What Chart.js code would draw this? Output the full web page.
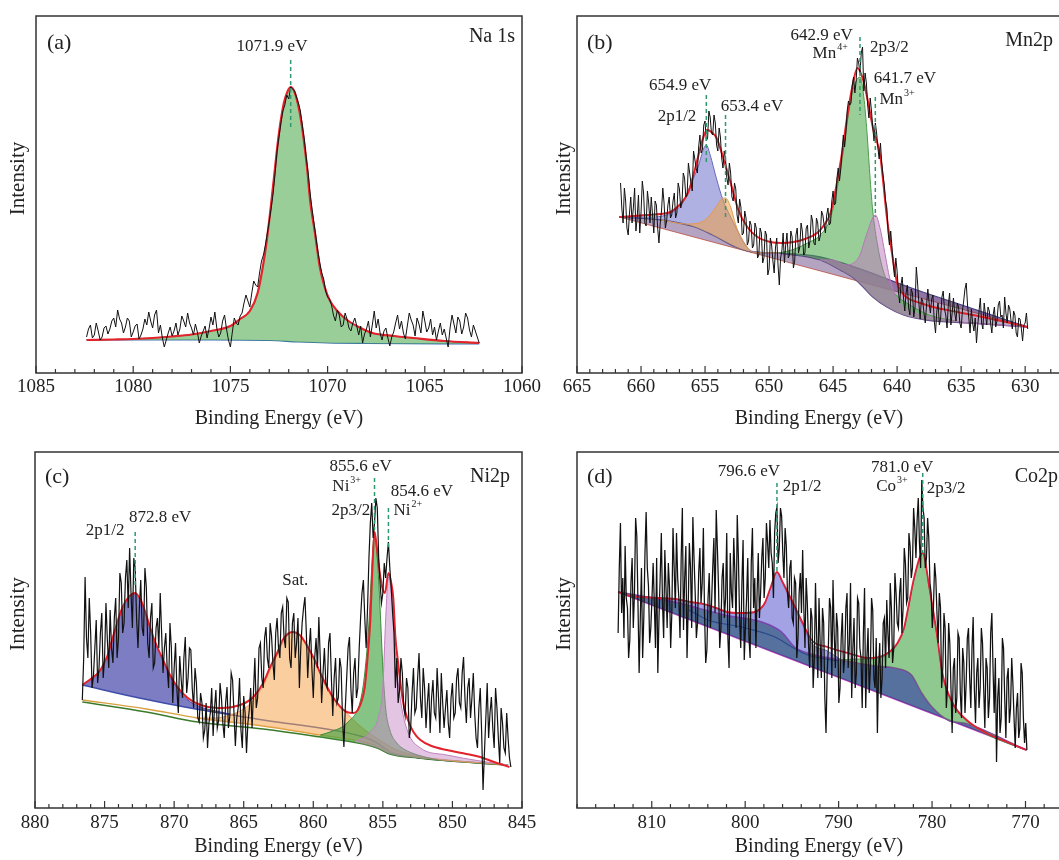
<!DOCTYPE html>
<html lang="en">
<head>
<meta charset="UTF-8">
<title>XPS spectra: Na 1s, Mn 2p, Ni 2p, Co 2p</title>
<script src="https://cdn.jsdelivr.net/npm/chart.js"></script>
<style>
  html, body { margin: 0; padding: 0; background: #fff; }
  body { position: relative; width: 1059px; height: 860px; overflow: hidden; }
  canvas { position: absolute; }
</style>
</head>
<body>
<canvas id="naChart" width="545" height="440" style="left:0;top:0"></canvas>
<canvas id="mnChart" width="530" height="440" style="left:545px;top:0"></canvas>
<canvas id="niChart" width="545" height="430" style="left:0;top:430px"></canvas>
<canvas id="coChart" width="530" height="430" style="left:545px;top:430px"></canvas>
<script>
// ---- Na 1s ----
const aPeaks = [1071.9];
const aTicks = [1085, 1080, 1075, 1070, 1065, 1060];
const aRawStart = 1082.4, aRawStep = 0.1;
const aRaw = [
  36,44,48,35,38,50,42,33,36,45,47,39,44,52,55,46,63,54,50,40,
  46,55,52,36,41,47,49,34,38,44,54,48,61,52,45,58,63,40,48,35,
  26,33,40,46,37,42,50,38,44,57,52,46,60,50,45,38,49,41,30,37,
  42,47,35,44,56,48,61,45,36,40,52,58,44,33,26,41,55,50,48,57,
  60,70,78,72,66,80,92,88,86,100,112,118,128,140,152,165,180,200,222,236,
  250,262,268,278,274,286,284,282,276,270,262,248,234,216,200,180,164,150,136,122,
  110,100,94,82,76,74,68,58,52,63,58,46,48,60,54,45,42,50,55,47,
  38,47,30,39,44,52,36,48,62,45,54,40,33,42,45,35,27,36,41,50,
  58,44,52,40,34,47,60,53,48,37,55,49,40,62,52,41,45,54,38,46,
  33,42,50,38,44,35,26,45,58,49,40,56,52,39,46,60,55,43,36,48,
  42,36,30
];
const aFit = [[1082.4,33],[1081,33.5],[1080,34],[1079,35],[1078,36.5],[1077,38.5],[1076,42],[1075,47],[1074.5,54],[1074,62],[1073.6,80],[1073.3,110],[1073.1,137],[1072.9,170],[1072.7,206],[1072.5,240],[1072.25,270],[1072.05,282],[1071.9,286],[1071.7,281],[1071.45,262],[1071.27,240],[1071.06,206],[1070.9,173],[1070.65,140],[1070.4,106],[1070.15,86],[1069.9,73],[1069.5,62],[1069,53],[1068.4,46],[1067.7,40],[1066.6,37],[1065.6,35],[1064,32],[1062.2,30]];
const aBase = [[1082.4,33],[1076,33],[1073,32.5],[1071.5,31],[1070,30],[1068,29.5],[1062.2,29]];

// ---- Mn 2p ----
const bPeaks = [654.9, 653.4, 642.9, 641.7];
const bTicks = [665, 660, 655, 650, 645, 640, 635, 630];
const bRawStart = 661.6, bRawStep = 0.1;
const bRaw = [
  190,165,150,185,172,145,138,160,176,150,165,185,142,155,178,140,160,192,180,150,
  147,182,170,150,176,158,140,172,168,145,130,150,162,185,170,145,152,168,176,155,
  158,172,180,155,160,190,184,165,170,200,195,176,178,210,200,190,182,222,214,205,
  200,226,238,220,224,248,252,232,235,262,256,240,238,258,250,228,222,245,236,215,
  205,222,214,195,188,210,200,176,172,190,184,158,150,174,166,138,140,162,155,128,
  132,152,148,125,128,150,145,115,118,145,140,110,115,142,138,98,104,135,128,112,
  100,125,135,108,88,115,122,140,110,128,140,115,118,142,136,105,112,138,145,120,
  126,150,142,118,120,145,148,125,132,158,152,130,128,155,150,132,137,162,158,148,
  140,158,165,148,150,172,182,168,170,195,205,192,204,222,238,226,240,262,272,268,
  270,288,296,280,292,315,310,300,320,326,282,300,290,268,255,275,262,245,232,250,
  240,225,214,230,210,198,188,172,165,140,128,142,126,108,96,115,102,82,70,88,
  96,75,62,80,88,65,58,84,80,56,66,106,90,70,54,75,72,60,50,68,
  84,70,60,74,78,52,40,62,70,48,55,76,82,64,58,45,68,80,48,60,
  75,60,52,70,66,50,45,62,72,84,90,68,55,40,64,50,42,55,30,48,
  62,75,50,44,70,58,48,66,62,50,40,58,66,46,52,68,72,56,58,45,
  76,60,50,68,64,52,44,62,58,40,36,55,54,45,32,48,50,60,44
];
const bFit = [[661.7,156],[660.5,157],[659.5,158],[658.5,159],[657.7,161],[657.0,168],[656.3,181],[655.8,203],[655.2,233],[654.85,243],[654.5,241],[654.1,235],[653.6,216],[653.0,190],[652.4,163],[651.7,146],[650.9,136],[649.9,131],[649.0,130],[648.1,131],[647.2,134],[646.25,140],[645.7,148],[645.2,160],[644.7,190],[644.3,220],[643.9,256],[643.5,286],[643.1,305],[642.65,293],[642.3,273],[641.9,246],[641.3,216],[641.1,193],[640.8,156],[640.4,120],[640.0,90],[639.6,80],[639.2,75],[638.2,70],[637.2,66],[635.3,61],[633.3,56],[631.5,51],[629.8,46]];
const bLin = [[661.7,156],[645.7,101],[629.8,46]];
const bUpper = [[661.7,156],[658.4,153],[655.8,146],[654.4,138],[652.6,126],[651.3,121],[649.2,120],[646.0,116],[638,81],[629.8,46]];
const bStep = [[649.2,120],[646.0,113],[644.45,103],[643.4,95],[642.65,86],[641.9,76],[640.8,66],[639.5,58],[637.7,53],[634.3,50],[629.8,46]];
const bBlue = [[661.7,156],[659.3,156],[657.5,161],[656.7,171],[656.2,186],[655.6,204],[654.9,228],[654.6,218],[654.1,194],[653.6,173],[653.0,156],[652.5,143],[652.0,131],[651.5,123],[651.0,121],[649.2,120]];
const bOrange = [[658.4,153],[656.5,149],[655.5,150],[655.0,153],[654.6,158],[654.1,167],[653.7,174],[653.4,175],[653.0,166],[652.6,148],[652.2,136],[651.7,126],[651.3,121],[649.2,120]];
const bGreen = [[649.2,120],[648.0,124],[647.0,130],[646.0,138],[645.2,155],[644.7,183],[644.3,213],[643.9,250],[643.5,280],[642.9,296],[642.6,276],[642.35,240],[642.1,193],[641.9,162],[641.5,126],[641.1,103],[640.55,86],[640.0,77],[639.0,68],[637.5,58],[635,51]];
const bPink = [[646.0,113],[645.0,113],[644.0,108],[643.4,110],[642.9,118],[642.4,138],[641.7,158],[641.3,143],[640.9,116],[640.6,96],[640.3,83],[640.0,73],[639.2,63],[637.4,56],[635,51],[632,48],[629.8,46]];

// ---- Ni 2p ----
const cPeaks = [872.8, 855.6, 854.6];
const cTicks = [880, 875, 870, 865, 860, 855, 850, 845];
const cRawStart = 876.6, cRawStep = 0.1;
const cRaw = [
  108,150,231,170,150,210,175,120,132,160,188,125,140,175,195,130,150,205,168,140,
  198,160,145,190,210,150,170,235,225,175,185,230,248,200,260,215,180,250,240,190,
  160,200,228,180,172,240,221,165,150,190,205,140,145,180,190,160,215,175,135,160,
  175,140,120,185,160,105,140,165,118,95,152,130,110,150,171,115,130,160,158,120,
  100,140,125,90,86,115,105,70,78,105,60,85,95,120,72,100,118,80,88,125,
  110,85,70,105,121,80,92,135,128,95,62,90,100,130,78,60,112,95,55,85,
  98,120,80,115,150,100,110,160,165,130,120,170,181,150,140,185,172,145,128,175,
  190,160,150,195,201,170,160,210,206,150,140,185,195,150,165,190,120,160,185,200,
  211,175,130,160,180,140,110,150,170,140,191,150,105,135,160,125,120,165,175,130,
  92,130,150,105,110,150,140,90,61,100,130,160,171,120,95,135,150,110,120,160,
  190,215,228,190,160,200,250,285,305,270,285,310,300,250,225,205,215,245,230,250,
  266,240,220,195,175,120,150,105,118,150,135,100,92,130,120,70,80,115,140,95,
  100,130,155,110,90,140,120,80,105,125,75,110,128,95,90,140,110,75,135,105,
  80,100,118,85,70,110,125,90,95,130,140,105,100,135,151,110,85,120,130,90,
  110,135,95,70,60,100,120,75,18,55,90,125,70,95,111,80,60,120,100,70,
  45,100,85,60,55,95,70,50,41
];
const cFit = [[876.6,123],[875.9,130],[875.3,138],[874.8,152],[874.4,171],[873.7,201],[873.2,212],[872.8,215],[872.4,208],[872.2,201],[871.5,171],[870.8,148],[870.1,128],[869.1,111],[868.1,103],[866.9,100],[865.8,101],[864.9,105],[864.3,111],[863.6,125],[863.1,141],[862.6,155],[862.2,168],[861.5,176],[860.9,172],[860.4,161],[859.9,148],[859.5,135],[858.6,111],[857.6,96],[857.1,95],[856.8,98],[856.5,108],[856.3,121],[856.1,150],[855.9,188],[855.75,240],[855.6,276],[855.45,262],[855.25,238],[855.05,221],[854.85,215],[854.6,235],[854.4,225],[854.25,210],[854.1,171],[853.9,145],[853.7,121],[853.5,103],[853.2,88],[852.8,76],[852.3,68],[851.5,62],[850.4,58],[849.0,54],[848.0,51],[847,46],[845.9,41]];
const cLow = [[876.6,106],[872,96],[868.3,86],[863.6,79],[860,72],[856.4,64],[855.4,60],[854.5,54],[852.5,50],[846,43]];
const cLowSat = [[876.6,108],[872,99],[868.3,90],[863.6,82],[860,74],[856.4,66],[855.4,62],[854.5,56],[852.5,51],[846,43]];
const cBlueBase = [[876.6,123],[872.5,110],[868.85,100],[863.6,88],[856.4,71],[855.4,65],[854.5,56],[852.8,51],[846,43]];
const cBlue = [[876.6,123],[875.9,130],[875.3,138],[874.8,152],[874.4,171],[873.7,201],[873.2,212],[872.8,215],[872.4,208],[872.2,201],[871.5,171],[870.8,148],[870.1,127],[869.1,109],[868.1,101],[867,97],[866,94],[865,91]];
const cSat = [[868.5,90],[867,90],[866,93],[865,99],[864.3,108],[863.6,122],[863.1,138],[862.6,153],[862.2,165],[861.5,176],[860.9,172],[860.4,161],[859.9,148],[859.5,135],[858.6,112],[857.6,95],[856.8,84],[856.0,75],[855.0,66],[854.0,58],[853,54],[852,51]];
const cGreen = [[859.5,73],[858.8,76],[857.5,86],[856.6,108],[856.3,135],[856.0,185],[855.8,240],[855.6,276],[855.4,250],[855.2,200],[855.0,140],[854.8,100],[854.5,78],[854.0,65],[853.5,59],[852.5,53],[851,48]];
const cPink = [[857.0,67],[856.4,70],[855.9,76],[855.3,92],[855.0,121],[854.8,188],[854.6,231],[854.3,201],[854.1,155],[853.7,105],[853.2,76],[852.3,60],[850.4,53],[848,47],[846,43]];

// ---- Co 2p ----
const dPeaks = [796.6, 781.0];
const dTicks = [810, 800, 790, 780, 770];
const dRawStart = 813.6, dRawStep = 0.125;
const dRaw = [
  175,240,285,195,230,170,262,210,200,150,168,225,250,180,215,290,272,205,135,190,
  240,150,190,255,296,240,222,165,180,210,245,205,160,250,135,190,230,275,205,170,
  258,220,180,245,221,160,195,280,240,200,275,230,210,170,250,300,178,230,262,150,
  200,265,240,180,291,250,215,170,185,235,260,205,225,280,195,145,158,210,235,180,
  205,240,270,195,298,260,220,160,180,230,245,190,210,275,170,140,255,215,200,270,
  235,180,293,250,190,160,225,268,148,180,210,250,172,150,245,280,200,230,160,215,
  255,190,215,250,270,210,230,285,265,240,288,255,245,210,275,295,301,245,260,300,
  292,255,230,280,262,215,200,240,248,190,185,230,225,150,170,215,235,195,258,200,
  160,230,205,165,140,200,190,120,150,225,171,130,210,165,130,200,185,110,75,135,
  160,210,200,130,228,175,140,195,180,105,120,170,195,135,150,200,215,140,165,225,
  110,160,190,120,135,210,205,160,150,100,175,220,100,150,180,115,140,210,198,130,
  120,170,75,140,165,110,130,185,190,140,208,175,150,225,200,145,160,235,215,185,
  180,215,230,175,200,260,245,205,210,275,262,230,240,300,280,250,288,310,265,240,
  328,300,290,240,250,290,270,225,215,180,201,245,230,195,165,215,201,120,140,195,
  180,100,120,185,165,120,75,140,150,95,110,175,170,115,90,160,145,95,125,170,
  180,130,100,160,191,120,85,135,150,100,120,180,165,120,80,150,140,90,110,175,
  195,140,95,150,46,110,130,75,90,170,160,110,70,130,140,85,100,150,125,90,
  60,100,115,70,80,145,135,90,65,85,58
];
const dFit = [[813.6,216],[812.3,212],[811.0,211],[809.3,210],[807.5,209],[805.8,206],[804.0,203],[802.8,199],[801.9,196],[800.5,195],[799.0,196],[798.3,200],[797.9,205],[797.3,220],[796.6,236],[796.0,226],[795.4,215],[794.0,188],[792.9,168],[791.2,161],[789.0,155],[786.9,150],[785.1,153],[783.7,165],[783.0,180],[782.6,198],[781.9,231],[781.0,255],[780.3,221],[779.5,175],[778.9,135],[777.8,105],[776.3,88],[774.2,75],[772.0,66],[769.9,58]];
const dLin = [[813.6,216],[769.9,58]];
const dShirley = [[813.6,216],[807.5,206],[802.2,193],[798.2,186],[796.1,176],[794.7,161],[793.3,155],[789.7,148],[786.1,142],[784.0,140],[782.2,133],[781.1,115],[780.0,101],[778.3,88],[776.2,84],[769.9,58]];
const dInner = [[806,198],[804,188],[800.4,181],[796.8,171],[795,161],[793.3,153],[790,147]];
const dBlue = [[813.6,216],[811,211],[807.5,208.5],[804,202.5],[801.9,195.5],[800.5,194.5],[799,195.5],[798.3,199.5],[797.9,204.5],[797.3,219.5],[796.6,236],[796.0,225],[795.4,213],[794,186],[792.9,165],[791.2,157],[789.7,148]];
const dGreen = [[789.7,148],[788,149],[786.9,149],[785.1,152],[783.7,164],[783.0,179],[782.6,197],[781.9,230],[781.0,255],[780.3,220],[779.5,174],[778.9,134],[777.8,104],[776.3,87],[774.2,74],[772.0,65],[769.9,58]];

Chart.defaults.font.family = '"Liberation Serif", "Times New Roman", serif';
Chart.defaults.color = '#222';

const pts = arr => arr.map(([x, y]) => ({ x, y }));
const scan = (start, step, vals) => vals.map((y, i) => ({ x: +(start - i * step).toFixed(3), y }));
const ev = v => v.toFixed(1) + ' eV';
const SERIF = '"Liberation Serif", "Times New Roman", serif';

function rawLine(start, step, vals, width) {
  return { data: scan(start, step, vals), borderColor: '#111', borderWidth: width || 1, pointRadius: 0, fill: false, tension: 0 };
}
function curve(arr, color, width, fill, bg) {
  return {
    data: pts(arr), borderColor: color, borderWidth: width, pointRadius: 0,
    cubicInterpolationMode: 'monotone',
    fill: fill === undefined ? false : fill,
    backgroundColor: bg || 'transparent'
  };
}

function drawNote(ctx, text, sup, cx, cy) {
  ctx.font = '17px ' + SERIF;
  const w1 = ctx.measureText(text).width;
  ctx.font = '10px ' + SERIF;
  const w2 = sup ? ctx.measureText(sup).width + 1 : 0;
  const x0 = cx - (w1 + w2) / 2;
  ctx.textAlign = 'left';
  ctx.textBaseline = 'middle';
  ctx.font = '17px ' + SERIF;
  ctx.fillText(text, x0, cy);
  if (sup) {
    ctx.font = '10px ' + SERIF;
    ctx.fillText(sup, x0 + w1 + 1, cy - 7);
  }
}

// frame, inward ticks, peak markers and text for one panel
function decoFor(o) {
  return {
    id: 'deco',
    afterDraw(chart) {
      const { ctx, chartArea: a } = chart;
      const x = chart.scales.x, y = chart.scales.y;
      ctx.save();
      ctx.strokeStyle = '#333';
      ctx.lineWidth = 1.5;
      ctx.strokeRect(a.left, a.top, a.right - a.left, a.bottom - a.top);

      ctx.lineWidth = 1.2;
      for (let k = Math.ceil(x.min / o.minor - 1e-9); k * o.minor <= x.max + 1e-9; k++) {
        const v = k * o.minor;
        const px = x.getPixelForValue(v);
        const major = Math.abs(v / o.major - Math.round(v / o.major)) < 1e-6;
        ctx.beginPath();
        ctx.moveTo(px, a.bottom);
        ctx.lineTo(px, a.bottom - (major ? 7 : 4));
        ctx.stroke();
      }

      ctx.setLineDash([4, 3]);
      ctx.strokeStyle = '#2e9a6e';
      ctx.lineWidth = 1.5;
      o.marks.forEach(([e, top, bottom]) => {
        const px = x.getPixelForValue(e);
        ctx.beginPath();
        ctx.moveTo(px, y.getPixelForValue(top));
        ctx.lineTo(px, y.getPixelForValue(bottom));
        ctx.stroke();
      });
      ctx.setLineDash([]);

      ctx.fillStyle = '#222';
      o.notes.forEach(([t, sup, e, i]) => drawNote(ctx, t, sup, x.getPixelForValue(e), y.getPixelForValue(i)));

      ctx.textBaseline = 'middle';
      ctx.font = '22px ' + SERIF;
      ctx.textAlign = 'left';
      ctx.fillText(o.letter, a.left + o.letterAt[0], a.top + o.letterAt[1]);
      ctx.font = '20px ' + SERIF;
      ctx.textAlign = 'right';
      ctx.fillText(o.name, a.right - o.nameAt[0], a.top + o.nameAt[1]);

      ctx.translate(a.left - o.titleDx, (a.top + a.bottom) / 2 - 16);
      ctx.rotate(-Math.PI / 2);
      ctx.font = '21px ' + SERIF;
      ctx.textAlign = 'center';
      ctx.fillText('Intensity', 0, 0);
      ctx.restore();
    }
  };
}

function spectrumChart(id, o) {
  return new Chart(document.getElementById(id), {
    type: 'line',
    data: { datasets: o.datasets },
    options: {
      responsive: false,
      animation: false,
      layout: { padding: o.padding },
      plugins: { legend: { display: false }, tooltip: { enabled: false } },
      scales: {
        x: {
          type: 'linear', min: o.xMin, max: o.xMax, reverse: true,
          grid: { display: false, drawTicks: false }, border: { display: false },
          afterBuildTicks: s => { s.ticks = o.xTicks.map(v => ({ value: v })); },
          afterFit: s => { s.height = o.xHeight; s.paddingLeft = 0; s.paddingRight = 0; },
          ticks: {
            font: { size: 19 }, color: '#222', padding: o.tickPad, maxRotation: 0, autoSkip: false,
            callback: v => String(v)
          },
          title: { display: true, text: 'Binding Energy (eV)', font: { size: 20 }, color: '#222', padding: { top: 0, bottom: o.titlePad } }
        },
        y: {
          type: 'linear', min: 0, max: o.yMax,
          grid: { display: false, drawTicks: false }, border: { display: false }, ticks: { display: false },
          afterFit: s => { s.width = o.yWidth; s.paddingTop = 0; s.paddingBottom = 0; }
        }
      }
    },
    plugins: [decoFor(o.deco)]
  });
}

const RED = '#e3232c';

spectrumChart('naChart', {
  xMin: 1060, xMax: 1085, xTicks: aTicks, yMax: 357,
  padding: { top: 16, right: 23, left: 0, bottom: 0 },
  xHeight: 67, yWidth: 36, tickPad: 3, titlePad: 9,
  datasets: [
    rawLine(aRawStart, aRawStep, aRaw),
    curve(aFit, RED, 2.2),
    curve(aFit, 'rgba(60,140,60,0.6)', 0.8, 3, 'rgba(70,165,70,0.55)'),
    curve(aBase, '#3c6fb4', 1.2)
  ],
  deco: {
    minor: 1, major: 5, titleDx: 18, letter: '(a)', letterAt: [11, 27], name: 'Na 1s', nameAt: [7, 21],
    marks: [[aPeaks[0], 313, 245]],
    notes: [[ev(aPeaks[0]), '', 1072.86, 326]]
  }
});

spectrumChart('mnChart', {
  xMin: 627.2, xMax: 665, xTicks: bTicks, yMax: 357,
  padding: { top: 16, right: 14, left: 0, bottom: 0 },
  xHeight: 67, yWidth: 32, tickPad: 3, titlePad: 9,
  datasets: [
    rawLine(bRawStart, bRawStep, bRaw),
    curve(bFit, RED, 2),
    curve(bPink, '#b27ab2', 1, 6, 'rgba(190,120,190,0.5)'),
    curve(bGreen, '#4c9a4c', 1, 6, 'rgba(70,165,70,0.55)'),
    curve(bOrange, '#e09a50', 1, 7, 'rgba(240,160,70,0.55)'),
    curve(bBlue, '#6a6ab8', 1, 7, 'rgba(95,100,200,0.5)'),
    curve(bStep, '#5a3a8a', 1.3, 7, 'rgba(90,50,120,0.4)'),
    curve(bUpper, '#4a4a8a', 1.3, 8, 'rgba(90,50,120,0.45)'),
    curve(bLin, '#e27a5a', 1)
  ],
  deco: {
    minor: 1, major: 5, titleDx: 13, letter: '(b)', letterAt: [10, 27], name: 'Mn2p', nameAt: [8, 25],
    marks: [[bPeaks[0], 278, 210], [bPeaks[1], 258, 156], [bPeaks[2], 336, 258], [bPeaks[3], 276, 156]],
    notes: [
      [ev(bPeaks[0]), '', 656.95, 287], ['2p1/2', '', 657.19, 256], [ev(bPeaks[1]), '', 651.33, 266],
      [ev(bPeaks[2]), '', 645.9, 337], ['Mn', '4+', 645.23, 319], ['2p3/2', '', 640.6, 325],
      [ev(bPeaks[3]), '', 639.4, 294], ['Mn', '3+', 640.0, 273]
    ]
  }
});

spectrumChart('niChart', {
  xMin: 845, xMax: 880, xTicks: cTicks, yMax: 356,
  padding: { top: 22, right: 23, left: 0, bottom: 0 },
  xHeight: 52, yWidth: 35, tickPad: 4, titlePad: 1,
  datasets: [
    rawLine(cRawStart, cRawStep, cRaw, 1.2),
    curve(cFit, RED, 2),
    curve(cPink, '#c080c0', 1, 7, 'rgba(200,140,200,0.5)'),
    curve(cGreen, '#3a8a3a', 1, 7, 'rgba(60,160,60,0.62)'),
    curve(cSat, '#e8a060', 1, 6, 'rgba(245,165,80,0.55)'),
    curve(cBlue, '#4848a8', 1, 8, 'rgba(70,70,170,0.7)'),
    curve(cLowSat, '#d8a040', 1.3),
    curve(cLow, '#3a7a2a', 1.5),
    curve(cBlueBase, '#3a50a8', 1.5)
  ],
  deco: {
    minor: 1, major: 5, titleDx: 17, letter: '(c)', letterAt: [10, 25], name: 'Ni2p', nameAt: [12, 25],
    marks: [[cPeaks[0], 276, 221], [cPeaks[1], 330, 278], [cPeaks[2], 300, 261]],
    notes: [
      ['2p1/2', '', 874.96, 277], [ev(cPeaks[0]), '', 871.0, 290], ['Sat.', '', 861.3, 227],
      [ev(cPeaks[1]), '', 856.6, 341], ['Ni', '3+', 857.6, 321], ['2p3/2', '', 857.3, 297],
      [ev(cPeaks[2]), '', 852.2, 316], ['Ni', '2+', 853.2, 297]
    ]
  }
});

spectrumChart('coChart', {
  xMin: 766.2, xMax: 818, xTicks: dTicks, yMax: 356,
  padding: { top: 22, right: 14, left: 0, bottom: 0 },
  xHeight: 52, yWidth: 32, tickPad: 4, titlePad: 1,
  datasets: [
    rawLine(dRawStart, dRawStep, dRaw, 1.25),
    curve(dFit, '#e0203a', 1.8),
    curve(dGreen, '#4c9a4c', 1, 5, 'rgba(70,165,70,0.6)'),
    curve(dBlue, '#6a6ac0', 1, 5, 'rgba(100,100,210,0.6)'),
    curve(dInner, '#2a4a8a', 1.2),
    curve(dShirley, '#8a3aa8', 1.5, 6, 'rgba(30,65,125,0.75)'),
    curve(dLin, '#c040c0', 1.5)
  ],
  deco: {
    minor: 2, major: 10, titleDx: 13, letter: '(d)', letterAt: [10, 25], name: 'Co2p', nameAt: [3, 25],
    marks: [[dPeaks[0], 325, 235], [dPeaks[1], 335, 255]],
    notes: [
      [ev(dPeaks[0]), '', 799.6, 336], ['2p1/2', '', 793.9, 321],
      [ev(dPeaks[1]), '', 783.2, 340], ['Co', '3+', 784.3, 321], ['2p3/2', '', 778.5, 319]
    ]
  }
});
</script>
</body>
</html>
